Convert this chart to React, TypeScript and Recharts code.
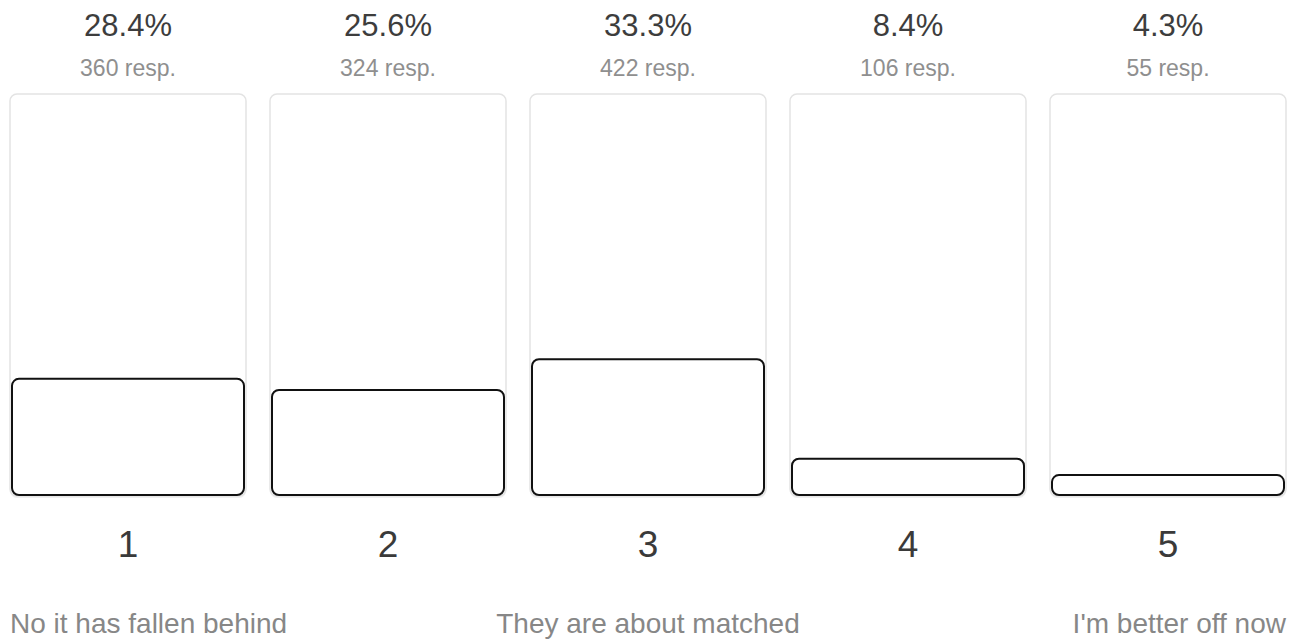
import React from 'react';
import { BarChart, Bar, XAxis, YAxis, Rectangle } from 'recharts';

const ratings = ['1', '2', '3', '4', '5'];
const percents = [28.4, 25.6, 33.3, 8.4, 4.3];
const responses = [360, 324, 422, 106, 55];
const scaleLabels = ['No it has fallen behind', '', 'They are about matched', '', "I'm better off now"];

const data = ratings.map((rating, i) => ({
  rating,
  percent: percents[i],
  resp: responses[i],
  label: scaleLabels[i],
}));

const FONT = '"Liberation Sans", Arial, Helvetica, sans-serif';
const BAR_SIZE = 236;

const TopTick = (props: any) => {
  const { x, payload } = props;
  const i = payload.index;
  return (
    <g>
      <text x={x} y={36} textAnchor="middle" fontFamily={FONT} fontSize={31} fill="#3d3d3d">
        {`${percents[i]}%`}
      </text>
      <text x={x} y={76} textAnchor="middle" fontFamily={FONT} fontSize={23} fill="#8f8f8f">
        {`${responses[i]} resp.`}
      </text>
    </g>
  );
};

const BottomTick = (props: any) => {
  const { x, payload } = props;
  const i = payload.index;
  const label = scaleLabels[i];
  let anchor: 'start' | 'middle' | 'end' = 'middle';
  let lx = x;
  if (i === 0) {
    anchor = 'start';
    lx = x - BAR_SIZE / 2;
  } else if (i === ratings.length - 1) {
    anchor = 'end';
    lx = x + BAR_SIZE / 2;
  }
  return (
    <g>
      <text x={x} y={557} textAnchor="middle" fontFamily={FONT} fontSize={37} fill="#3a3a3a">
        {payload.value}
      </text>
      {label && (
        <text x={lx} y={633} textAnchor={anchor} fontFamily={FONT} fontSize={28} fill="#878787">
          {label}
        </text>
      )}
    </g>
  );
};

const BarShape = (props: any) => {
  const { x, y, width, height, background } = props;
  const bottom = background ? background.y + background.height - 1 : y + height;
  return (
    <Rectangle
      x={x + 2}
      y={y - 1}
      width={width - 4}
      height={bottom - y + 1}
      radius={7}
      fill="#ffffff"
      stroke="#111111"
      strokeWidth={2}
    />
  );
};

const BarBackground = (props: any) => {
  const { x, y, width, height } = props;
  return (
    <g>
      <Rectangle x={x} y={y + 2} width={width} height={height} radius={7} fill="#f0f0f0" stroke="none" />
      <Rectangle x={x} y={y} width={width} height={height} radius={7} fill="#ffffff" stroke="#e3e3e3" strokeWidth={1.5} />
    </g>
  );
};

export default function App() {
  return (
    <div style={{ position: 'absolute', left: -2, top: 0, background: '#fff' }}>
      <BarChart width={1300} height={639} data={data} margin={{ top: 0, right: 0, bottom: 0, left: 0 }} barSize={BAR_SIZE}>
        <XAxis
          xAxisId="top"
          orientation="top"
          dataKey="rating"
          height={94}
          axisLine={false}
          tickLine={false}
          tick={<TopTick />}
          interval={0}
        />
        <XAxis
          dataKey="rating"
          height={143}
          axisLine={false}
          tickLine={false}
          tick={<BottomTick />}
          interval={0}
        />
        <YAxis hide domain={[-0.7, 100]} />
        <Bar
          dataKey="percent"
          isAnimationActive={false}
          background={<BarBackground />}
          shape={<BarShape />}
        />
      </BarChart>
    </div>
  );
}
